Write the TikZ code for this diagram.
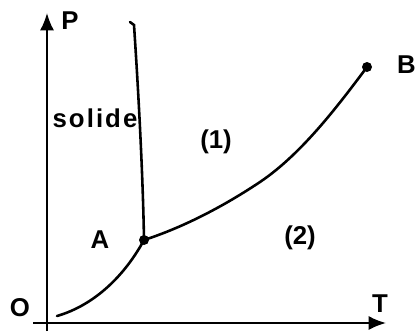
\documentclass[tikz,border=0pt]{standalone}
\usepackage{fontspec}
\setmainfont{Liberation Sans}
\usetikzlibrary{arrows.meta,positioning}

\begin{document}
\begin{tikzpicture}[x=0.03cm,y=-0.03cm,
  axis/.style={line width=1.6pt, -{Latex[length=0.52cm,width=0.42cm]}},
  curve/.style={line width=2.2pt, line cap=round},
  dot/.style={circle, fill=black, inner sep=0pt, minimum size=0.3cm},
  lbl/.style={font=\fontsize{22}{26}\selectfont\bfseries, inner sep=0pt}]
  \useasboundingbox (0,0) rectangle (416,331);
  % axes
  \coordinate (ybot) at (47,331);
  \coordinate (ytop) at (47,13);
  \coordinate (xleft) at (33,323);
  \coordinate (xright) at (386,323);
  \draw[axis] (ybot) -- (ytop);
  \draw[axis] (xleft) -- (xright);
  \node[lbl] (P) at (70,21) {P};
  \node[lbl] (O) at (20,308) {O};
  \node[lbl] (T) at (380,304) {T};
  % points
  \node[dot] (A) at (144,240) {};
  \node[dot] (B) at (367,67) {};
  \node[lbl] (Alab) at (100,240) {A};
  \node[lbl, anchor=east] (Blab) at (416,65) {B};
  % curves
  \coordinate (start) at (57,316);
  \coordinate (mid) at (260,182);
  \coordinate (hook) at (130,22);
  \coordinate (top) at (134,25);
  \draw[curve] (start) .. controls (95,305) and (125,275) .. (A.center)
    .. controls (175,230) and (215,212) .. (mid)
    .. controls (300,155) and (335,110) .. (B.center);
  \draw[curve] (hook) -- (top) .. controls (139,100) and (143,180) .. (A.center);
  % regions
  \node[lbl] (sol) at (95,118) {\addfontfeatures{LetterSpace=8}solide};
  \node[lbl] (r1) at (216,142) {(1)};
  \node[lbl] (r2) at (300,238) {(2)};
\end{tikzpicture}
\end{document}
